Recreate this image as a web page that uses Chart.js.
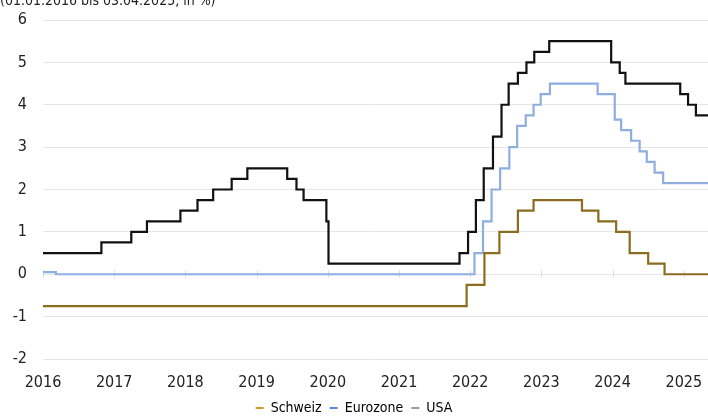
<!DOCTYPE html>
<html>
<head>
<meta charset="utf-8">
<script src="https://cdn.jsdelivr.net/npm/chart.js@4"></script>
<style>
  html, body { margin: 0; padding: 0; background: #fff; overflow: hidden; }
  #wrap { position: relative; width: 708px; height: 417px; }
  #sub { position: absolute; left: 0; top: -8px; font: 14px "Liberation Sans Narrow", "DejaVu Sans Condensed", sans-serif; color: #222; white-space: nowrap; }
</style>
</head>
<body>
<div id="wrap">
  <canvas id="chart" width="708" height="417"></canvas>
  <div id="sub">(01.01.2016 bis 03.04.2025, in %)</div>
</div>
<script>
const years = [2016, 2017, 2018, 2019, 2020, 2021, 2022, 2023, 2024, 2025];
const yTicks = [-2, -1, 0, 1, 2, 3, 4, 5, 6];

const chX = [2016.00, 2021.95, 2022.20, 2022.41, 2022.67, 2022.89, 2023.57, 2023.80, 2024.05, 2024.24, 2024.50, 2024.73, 2025.34];
const chY = [-0.75, -0.25, 0.5, 1.0, 1.5, 1.75, 1.5, 1.25, 1.0, 0.5, 0.25, 0, 0];

const euroX = [2016.00, 2016.18, 2022.06, 2022.18, 2022.30, 2022.42, 2022.55, 2022.66, 2022.78, 2022.89, 2022.99, 2023.12, 2023.79, 2024.03, 2024.12, 2024.26, 2024.38, 2024.48, 2024.59, 2024.71, 2025.34];
const euroY = [0.05, 0, 0.5, 1.25, 2.0, 2.5, 3.0, 3.5, 3.75, 4.0, 4.25, 4.5, 4.25, 3.65, 3.40, 3.15, 2.90, 2.65, 2.40, 2.15, 2.15];

const usaX = [2016.00, 2016.82, 2017.24, 2017.46, 2017.93, 2018.17, 2018.39, 2018.65, 2018.87, 2019.43, 2019.56, 2019.66, 2019.98, 2020.01, 2021.85, 2021.97, 2022.08, 2022.19, 2022.32, 2022.44, 2022.54, 2022.67, 2022.79, 2022.90, 2023.11, 2023.98, 2024.10, 2024.18, 2024.95, 2025.06, 2025.17, 2025.34];
const usaY = [0.5, 0.75, 1.0, 1.25, 1.5, 1.75, 2.0, 2.25, 2.5, 2.25, 2.0, 1.75, 1.25, 0.25, 0.5, 1.0, 1.75, 2.5, 3.25, 4.0, 4.5, 4.75, 5.0, 5.25, 5.5, 5.0, 4.75, 4.5, 4.25, 4.0, 3.75, 3.75];

const legendColors = ["#d09a1c", "#4a8fdc", "#9a9a9a"];
const fontFam = '"Liberation Sans Narrow", "DejaVu Sans Condensed", sans-serif';

function pts(xs, ys) {
  return xs.map((x, i) => ({ x: x, y: ys[i] }));
}

// kleine Striche auf der Nulllinie
const zeroTicks = {
  id: 'zeroTicks',
  beforeDatasetsDraw(chart) {
    const ctx = chart.ctx;
    const xs = chart.scales.x, ys = chart.scales.y;
    const y0 = Math.round(ys.getPixelForValue(0)) + 0.5;
    ctx.save();
    ctx.strokeStyle = '#dcdcdc';
    ctx.lineWidth = 1;
    years.forEach(v => {
      const px = Math.round(xs.getPixelForValue(v)) + 0.5;
      ctx.beginPath();
      ctx.moveTo(px, y0 - 4);
      ctx.lineTo(px, y0 + 3);
      ctx.stroke();
    });
    ctx.restore();
  }
};

new Chart(document.getElementById("chart"), {
  type: 'line',
  data: {
    datasets: [
      { label: "Schweiz", data: pts(chX, chY), borderColor: "#8c6d1f", borderWidth: 2.2, stepped: 'before', pointRadius: 0, fill: false },
      { label: "Eurozone", data: pts(euroX, euroY), borderColor: "#8eaee2", borderWidth: 2.2, stepped: 'before', pointRadius: 0, fill: false },
      { label: "USA", data: pts(usaX, usaY), borderColor: "#111111", borderWidth: 2.2, stepped: 'before', pointRadius: 0, fill: false }
    ]
  },
  options: {
    responsive: false,
    animation: false,
    layout: { padding: { top: 20, left: 0, right: 0, bottom: -8 } },
    scales: {
      x: {
        type: 'linear',
        min: 2016,
        max: 2025.34,
        grid: { display: false, drawTicks: false },
        border: { display: false },
        afterFit: s => { s.height = 34; s.paddingLeft = 0; s.paddingRight = 0; },
        ticks: {
          stepSize: 1,
          includeBounds: false,
          autoSkip: false,
          maxRotation: 0,
          padding: 14,
          color: '#222',
          font: { family: fontFam, size: 16 },
          callback: v => String(v)
        }
      },
      y: {
        min: -2,
        max: 6,
        grid: { color: '#e6e6e6', drawTicks: false },
        border: { display: false },
        afterFit: s => { s.width = 43; s.paddingTop = 0; s.paddingBottom = 0; },
        ticks: {
          stepSize: 1,
          padding: 16,
          color: '#222',
          font: { family: fontFam, size: 16 },
          callback: v => yTicks.includes(v) ? String(v) : ''
        }
      }
    },
    plugins: {
      legend: {
        position: 'bottom',
        labels: {
          boxWidth: 8,
          boxHeight: 2,
          padding: 8,
          color: '#333',
          font: { family: fontFam, size: 14 },
          generateLabels: chart => chart.data.datasets.map((d, i) => ({
            text: d.label,
            fillStyle: legendColors[i],
            strokeStyle: legendColors[i],
            lineWidth: 0,
            datasetIndex: i
          }))
        }
      },
      tooltip: { enabled: false }
    }
  },
  plugins: [zeroTicks]
});
</script>
</body>
</html>
